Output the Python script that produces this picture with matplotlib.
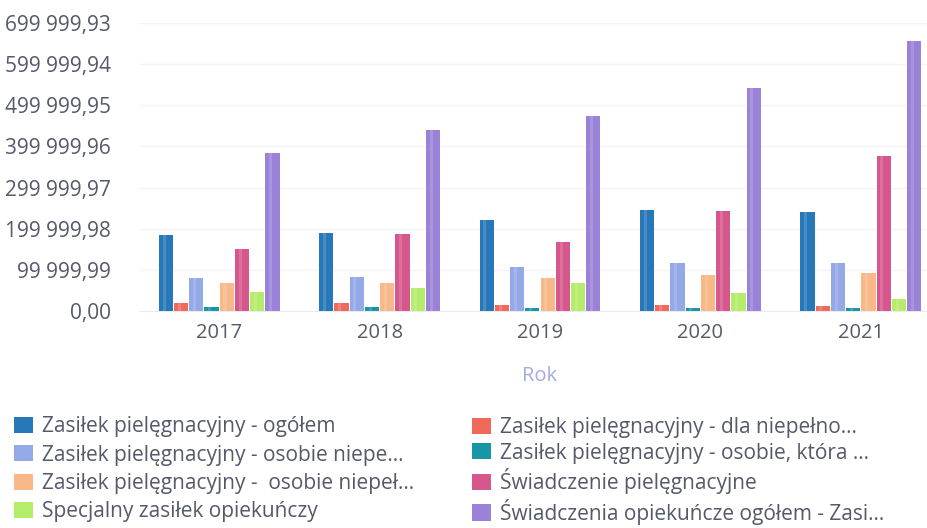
import numpy as np
import matplotlib
matplotlib.use('Agg')
import matplotlib.pyplot as plt
from matplotlib.patches import Patch

plt.rcParams['font.family'] = ['Open Sans', 'DejaVu Sans']

# dane: lata i wartości poszczególnych świadczeń
lata = ['2017', '2018', '2019', '2020', '2021']
zasilek_ogolem = [185000, 190000, 222000, 246000, 241000]
zasilek_dla_niepelno = [19500, 19000, 14000, 14000, 12000]
zasilek_osobie_niepe = [80000, 83000, 107000, 117000, 117000]
zasilek_osobie_ktora = [10000, 9000, 7000, 7000, 7000]
zasilek_osobie_niepel = [68000, 68000, 80000, 88000, 93000]
swiadczenie_pielegnacyjne = [151000, 188000, 168000, 244000, 376000]
specjalny_zasilek = [46000, 56000, 68000, 44000, 29000]
swiadczenia_ogolem = [383000, 439000, 473000, 541000, 656000]

serie = [
    ('Zasiłek pielęgnacyjny - ogółem', zasilek_ogolem, '#2778b8'),
    ('Zasiłek pielęgnacyjny - dla niepełno...', zasilek_dla_niepelno, '#f06a5c'),
    ('Zasiłek pielęgnacyjny - osobie niepe...', zasilek_osobie_niepe, '#93a9e8'),
    ('Zasiłek pielęgnacyjny - osobie, która ...', zasilek_osobie_ktora, '#1797a6'),
    ('Zasiłek pielęgnacyjny -  osobie niepeł...', zasilek_osobie_niepel, '#f9b888'),
    ('Świadczenie pielęgnacyjne', swiadczenie_pielegnacyjne, '#d6578b'),
    ('Specjalny zasiłek opiekuńczy', specjalny_zasilek, '#b5ec6a'),
    ('Świadczenia opiekuńcze ogółem - Zasi...', swiadczenia_ogolem, '#9a82d8'),
]

krok = 99999.99
yticki = [i * krok for i in range(8)]

fig = plt.figure(figsize=(9.28, 5.28), dpi=100)
ax = fig.add_axes([139 / 928, 217 / 528, 802 / 928, 288 / 528])

x = np.arange(len(lata))
szer = 0.095
for i, (nazwa, wart, kolor) in enumerate(serie):
    poz = x + (i - 3.5) * szer
    ax.bar(poz, wart, width=szer * 0.93, color=kolor, zorder=3)
    # jaśniejszy pasek imitujący połysk słupka
    ax.bar(poz - szer * 0.12, wart, width=szer * 0.2, color='white',
           alpha=0.15, zorder=4)

ax.set_xlim(-0.5, 4.5)
ax.set_ylim(0, yticki[-1])
ax.set_yticks(yticki)
ax.set_yticklabels([f'{v:,.2f}'.replace(',', ' ').replace('.', ',') for v in yticki])
ax.set_xticks(x)
ax.set_xticklabels(lata)
ax.tick_params(axis='both', length=0, colors='#55596a')
ax.tick_params(axis='y', pad=20, labelsize=15)
ax.tick_params(axis='x', pad=9, labelsize=14.5)

ax.grid(axis='y', color='#f4f4f4', linewidth=1, zorder=0)
for s in ['top', 'right', 'left']:
    ax.spines[s].set_visible(False)
ax.spines['bottom'].set_color('#ebebeb')

ax.set_xlabel('Rok', fontsize=14.5, color='#a3acdf', labelpad=16)

# legenda w dwóch kolumnach
uchwyty = [Patch(facecolor=k, label=n) for n, _, k in serie]
lewa = [uchwyty[i] for i in (0, 2, 4, 6)]
prawa = [uchwyty[i] for i in (1, 3, 5, 7)]
opcje = dict(loc='upper left', frameon=False, fontsize=15, handlelength=0.9,
             handleheight=0.82, handletextpad=0.43,
             labelcolor='#55596a', borderaxespad=0, borderpad=0)
fig.legend(handles=lewa, bbox_to_anchor=(14 / 928, 1 - 416 / 528),
           labelspacing=0.36, **opcje)
fig.legend(handles=prawa, bbox_to_anchor=(472 / 928, 1 - 417 / 528),
           labelspacing=0.22, **opcje)

fig.savefig('out.png', dpi=100, facecolor='white')
